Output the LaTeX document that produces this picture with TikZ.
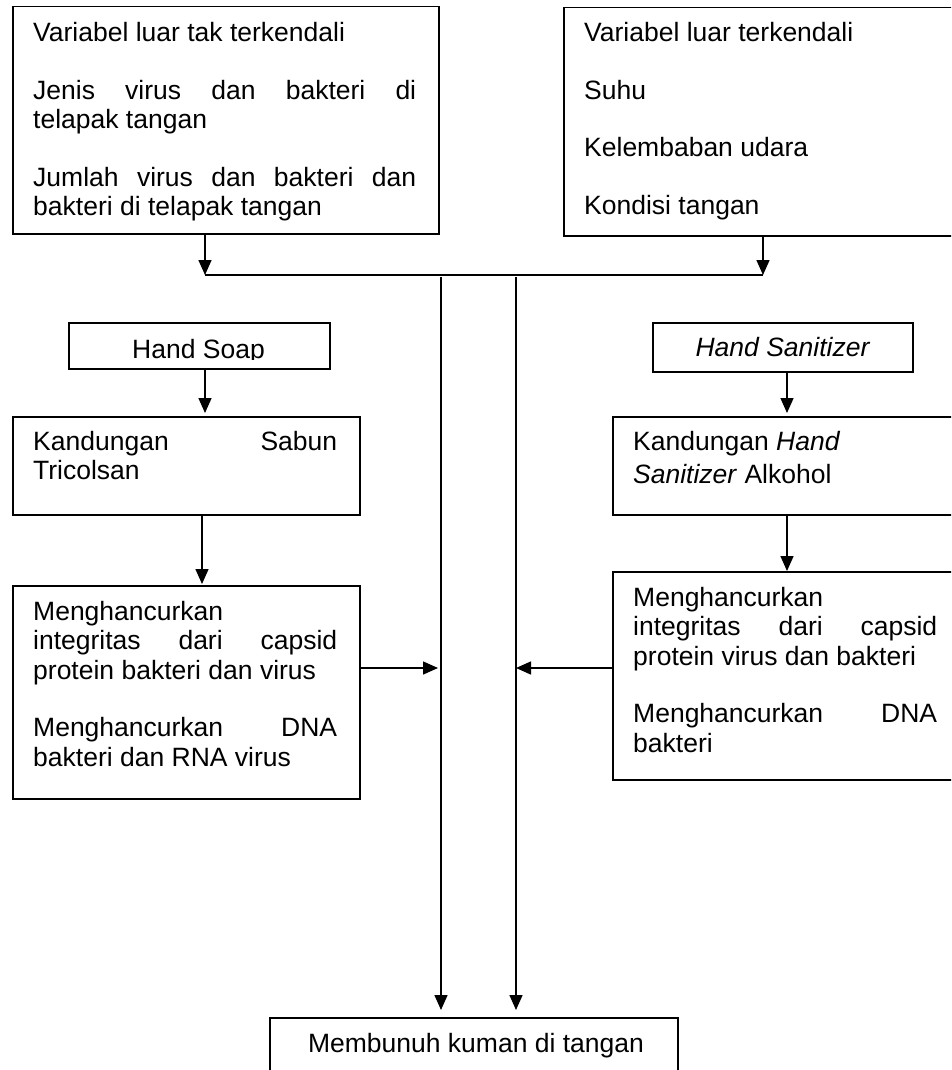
\documentclass[tikz,border=0pt]{standalone}
\usepackage{fontspec}
\setmainfont{Liberation Sans}
\usetikzlibrary{arrows.meta}
\newcommand\jline[1]{\makebox[\linewidth][s]{#1}\par}
\begin{document}
\begin{tikzpicture}[x=1pt,y=-1pt,
  box/.style={draw, line width=1.5pt, anchor=north west, inner sep=0pt},
  txt/.style={anchor=base west, inner sep=0pt, align=justify, font=\fontsize{26.5pt}{29.5pt}\selectfont},
  ctxt/.style={anchor=base, inner sep=0pt, font=\fontsize{26.5pt}{29.5pt}\selectfont},
  ln/.style={line width=1.5pt},
  arr/.style={line width=1.5pt, -{Triangle[length=15pt,width=13pt]}}]
\useasboundingbox (0,0) rectangle (951,1070);
\clip (0,0) rectangle (951,1070);
% boxes
\node[box, minimum width=426pt, minimum height=227pt] (vt) at (12,6) {};
\node[box, minimum width=450pt, minimum height=228pt] (vk) at (563,7) {};
\node[box, minimum width=261pt, minimum height=46pt] (hs) at (68,322) {};
\node[box, minimum width=260pt, minimum height=49pt] (hz) at (652,322) {};
\node[box, minimum width=347pt, minimum height=98pt] (ks) at (12,416) {};
\node[box, minimum width=400pt, minimum height=98pt] (kz) at (612,416) {};
\node[box, minimum width=347pt, minimum height=213pt] (ms) at (12,585) {};
\node[box, minimum width=400pt, minimum height=208pt] (mz) at (612,571) {};
\node[box, minimum width=408pt, minimum height=80pt] (mb) at (269,1017) {};
% texts
\node[txt, text width=383pt] (vtt) at (33,42) {Variabel luar tak terkendali\par\vspace{28pt}\jline{Jenis virus dan bakteri di}telapak tangan\par\vspace{28pt}\jline{Jumlah virus dan bakteri dan}bakteri di telapak tangan};
\node[txt, text width=340pt] (vkt) at (584,42) {Variabel luar terkendali\par\vspace{28pt}Suhu\par\vspace{28pt}Kelembaban udara\par\vspace{28pt}Kondisi tangan};
\begin{scope}
\clip (68,322) rectangle (329,359.5);
\node[ctxt] (hst) at (198.5,358) {Hand Soap};
\end{scope}
\node[ctxt, font=\fontsize{26.5pt}{29.5pt}\selectfont\itshape] (hzt) at (782.5,356) {Hand Sanitizer};
\node[txt, text width=304pt] (kst) at (33,450) {\jline{Kandungan Sabun}Tricolsan};
\node[txt, text width=304pt] (kzt) at (633,450) {Kandungan \textit{Hand}\\[3.5pt]\textit{Sanitizer} Alkohol};
\node[txt, text width=304pt] (mst) at (33,620) {Menghancurkan\par\jline{integritas dari capsid}protein bakteri dan virus\par\vspace{28pt}\jline{Menghancurkan DNA}bakteri dan RNA virus};
\node[txt, text width=304pt] (mzt) at (633,606) {Menghancurkan\par\jline{integritas dari capsid}protein virus dan bakteri\par\vspace{28pt}\jline{Menghancurkan DNA}bakteri};
\node[ctxt] (mbt) at (476,1052) {Membunuh kuman di tangan};
% connectors
\coordinate (j1) at (205,275);
\coordinate (j2) at (763,275);
\draw[arr] (vt.south -| j1) -- (j1);
\draw[arr] (vk.south -| j2) -- (j2);
\draw[ln] (j1) -- (j2);
\coordinate (v1) at (441,277);
\coordinate (v2) at (516,277);
\draw[arr, shorten >=7pt] (v1) -- (v1 |- mb.north);
\draw[arr, shorten >=7pt] (v2) -- (v2 |- mb.north);
\coordinate (x2) at (202,0);
\coordinate (x3) at (787,0);
\coordinate (h) at (0,668);
\draw[arr, shorten >=3pt] (hs.south -| j1) -- (ks.north -| j1);
\draw[arr, shorten >=1pt] (ks.south -| x2) -- (ms.north -| x2);
\draw[arr, shorten >=3pt] (hz.south -| x3) -- (kz.north -| x3);
\draw[arr] (kz.south -| x3) -- (mz.north -| x3);
\draw[arr, shorten >=3pt] (ms.east |- h) -- (v1 |- h);
\draw[arr] (mz.west |- h) -- (v2 |- h);
\end{tikzpicture}
\end{document}
